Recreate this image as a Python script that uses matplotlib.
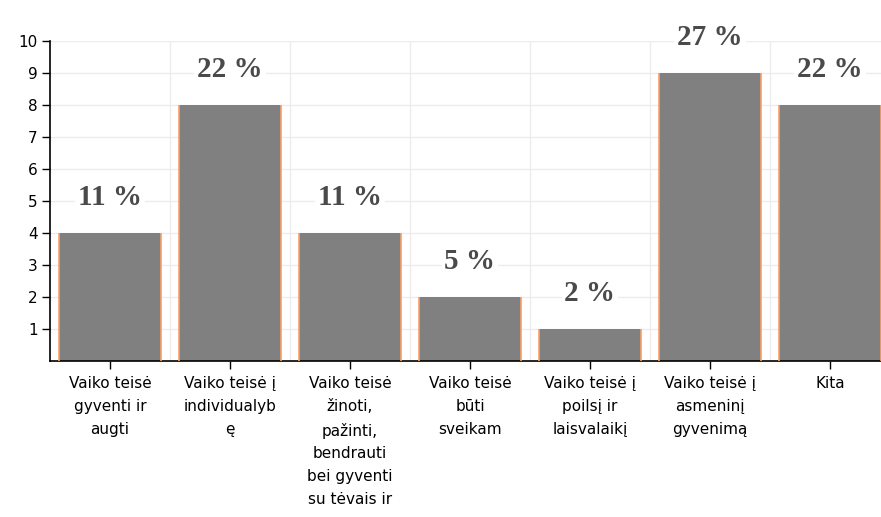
import numpy as np
import matplotlib.pyplot as plt

# duomenys
categories = [
    'Vaiko teisė\ngyventi ir\naugti',
    'Vaiko teisė į\nindividualyb\nę',
    'Vaiko teisė\nžinoti,\npažinti,\nbendrauti\nbei gyventi\nsu tėvais ir',
    'Vaiko teisė\nbūti\nsveikam',
    'Vaiko teisė į\npoilsį ir\nlaisvalaikį',
    'Vaiko teisė į\nasmeninį\ngyvenimą',
    'Kita',
]
values = [4, 8, 4, 2, 1, 9, 8]
percent_labels = ['11 %', '22 %', '11 %', '5 %', '2 %', '27 %', '22 %']
yticks = [1, 2, 3, 4, 5, 6, 7, 8, 9, 10]

fig = plt.figure(figsize=(8.81, 5.17), dpi=100)
ax = fig.add_axes([50 / 881, 156 / 517, 840 / 881, 320 / 517])

x = np.arange(len(values))
w = 0.85
ax.bar(x, values, width=w, color='#808080', zorder=2)
# oranzines bordiuros tik is soniu
ax.vlines(np.concatenate([x - w / 2, x + w / 2]), 0, values + values,
          color='#f8a068', linewidth=1.2, zorder=3)

for i in range(len(values)):
    ax.text(x[i], values[i] + 1.1, percent_labels[i], ha='center', va='center',
            fontsize=21, fontweight='bold', family='Liberation Serif', color='#4a4a4a',
            bbox=dict(facecolor='white', edgecolor='none', pad=2), zorder=4)

ax.set_xlim(-0.5, len(values) - 0.5)
ax.set_ylim(0, 10)
ax.set_yticks(yticks)
ax.set_xticks(x)
ax.set_xticklabels(categories, fontsize=11, linespacing=1.65, va='top')
ax.tick_params(axis='y', labelsize=11, length=6, width=1, pad=3)
ax.tick_params(axis='x', length=6, width=1, pad=5)

# tinklelis
ax.set_xticks(x[:-1] + 0.5, minor=True)
ax.tick_params(axis='x', which='minor', length=0)
ax.grid(True, which='minor', axis='x', color='#ececec', linewidth=1, zorder=0)
ax.grid(True, which='major', axis='y', color='#ececec', linewidth=1, zorder=0)
ax.set_axisbelow(True)

for s in ['top', 'right']:
    ax.spines[s].set_visible(False)
ax.spines['left'].set_linewidth(1.2)
ax.spines['bottom'].set_linewidth(1.2)

fig.savefig('out.png', dpi=100)
